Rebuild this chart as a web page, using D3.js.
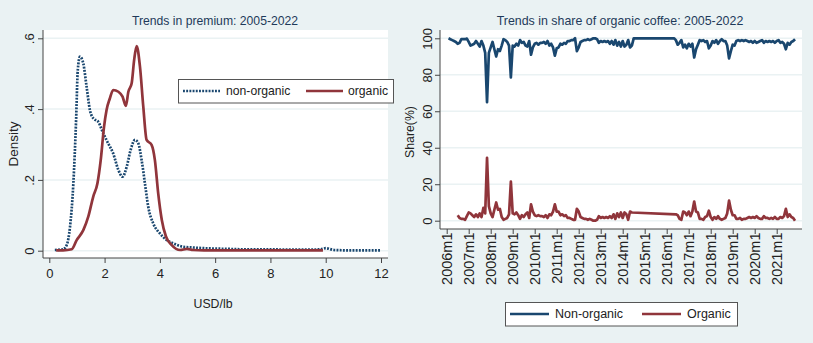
<!DOCTYPE html>
<html>
<head>
<meta charset="utf-8">
<script src="https://cdn.jsdelivr.net/npm/d3@7"></script>
<style>
  html, body { margin: 0; padding: 0; background: #eaf2f3; }
  svg { display: block; font-family: "Liberation Sans", Arial, sans-serif; }
</style>
</head>
<body>
<svg id="chart" width="813" height="343"></svg>
<script>
// ---- Left panel: kernel densities of the price premium (USD/lb) ----
const nonOrgPremX = [0.2, 0.5, 0.63, 0.75, 0.87, 0.97, 1.03, 1.11, 1.23, 1.35, 1.47, 1.59, 1.77, 1.95, 2.13, 2.31, 2.5, 2.65, 2.8, 2.94, 3.1, 3.22, 3.34, 3.46, 3.58, 3.76, 4.0, 4.25, 4.48, 4.85, 5.2, 5.6, 6.0, 6.5, 7.0, 7.5, 8.0, 8.5, 9.0, 9.5, 9.8, 10.0, 10.3, 10.8, 11.4, 12.0];
const nonOrgDensity = [0.002, 0.004, 0.016, 0.068, 0.19, 0.37, 0.51, 0.548, 0.529, 0.463, 0.397, 0.374, 0.364, 0.332, 0.303, 0.275, 0.228, 0.209, 0.237, 0.284, 0.313, 0.303, 0.256, 0.19, 0.124, 0.077, 0.049, 0.030, 0.021, 0.011, 0.009, 0.007, 0.006, 0.005, 0.004, 0.004, 0.004, 0.003, 0.003, 0.003, 0.004, 0.007, 0.002, 0.001, 0.001, 0.001];

const orgPremX = [0.25, 0.5, 0.81, 0.99, 1.23, 1.41, 1.59, 1.74, 1.86, 1.98, 2.07, 2.19, 2.31, 2.5, 2.65, 2.77, 2.86, 2.98, 3.07, 3.16, 3.28, 3.4, 3.52, 3.7, 3.82, 3.94, 4.07, 4.22, 4.43, 4.73, 4.98, 5.2, 5.6, 6.5, 7.5, 8.5, 9.9];
const orgDensity = [0.001, 0.001, 0.004, 0.03, 0.058, 0.096, 0.153, 0.19, 0.256, 0.35, 0.397, 0.43, 0.454, 0.449, 0.435, 0.409, 0.449, 0.473, 0.539, 0.578, 0.52, 0.407, 0.313, 0.299, 0.256, 0.162, 0.087, 0.04, 0.016, 0.002, 0.005, 0.002, 0.001, 0.001, 0.001, 0.001, 0.001];

const premXTicks = [0, 2, 4, 6, 8, 10, 12];
const premYTicks = [0, 0.2, 0.4, 0.6];
const premYLabels = ["0", ".2", ".4", ".6"];

// ---- Right panel: monthly market share (%), month 0 = 2006m1 ----
const shareStart = { year: 2006, month: 1 };
const nonOrganicShare = [
  null, 100, 99.5, 99, 98.5, 98, 97, 97.5, 99.5, 99.5, 99.5, 99.8,           // 2006
  98, 96, 96.5, 97, 98.5, 97, 95.5, 98.5, 96, 92, 65, 92,                   // 2007
  95, 98, 94, 90, 94, 93, 96, 99.5, 99, 98, 96, 78.5,                        // 2008
  96, 95.5, 97, 96, 99, 97.5, 98, 96, 95.5, 98.5, 91, 95,                    // 2009
  97, 97.5, 96.5, 97.5, 97.5, 98, 97, 98.5, 96, 97, 95, 90.5,                // 2010
  94.5, 95, 97, 96.5, 97.5, 97, 98.5, 98.5, 99, 99, 100, 93,                 // 2011
  95, 98, 98.5, 99, 99, 99.5, 99, 99.5, 100, 100, 99.5, 97.5,                // 2012
  98.5, 98, 98.5, 98, 98.5, 97, 98.5, 96.5, 99, 96, 98, 95.5,                // 2013
  98.5, 95.5, 96.5, 99, 95, 96, 100, 100, 100, 100, 100, 100,                // 2014
  100, 100, 100, 100, 100, 100, 100, 100, 100, 100, 100, 100,                // 2015
  100, 100, 100, 100, 100, 99, 96.5, 97.5, 99, 95, 96.5, 94.5,               // 2016
  97, 95.5, 97, 89.5, 94, 96.5, 99, 98.5, 99, 98, 98.5, 94.5,                // 2017
  96, 98.5, 97.5, 99, 97, 98.5, 99.5, 98.5, 98.5, 96, 89, 93,                // 2018
  96.5, 96, 98.5, 99, 98.5, 99, 98.5, 99, 98.5, 98, 98.5, 97.5,              // 2019
  98.5, 97.5, 98, 98.5, 99, 97.5, 98.5, 98, 98.5, 98, 98.5, 97.5,            // 2020
  98.5, 99, 97.5, 98, 97, 94, 97.5, 96.5, 98, 98.5, 99.5, null               // 2021
];
const organicShare = [
  null, null, null, null, null, null, 3, 1.5, 1, 1, 0.5, 2.5,                // 2006
  4.5, 4, 3, 2, 3.5, 2, 4, 2, 7, 4, 34.5, 8,                                 // 2007
  4, 2, 6, 10, 6, 6.5, 2, 0.5, 1, 1.5, 3.5, 21.5,                            // 2008
  4, 3.5, 4.5, 3, 1, 3, 2, 3.5, 4.5, 1.5, 9, 5,                              // 2009
  3, 2.5, 3, 2.5, 2.5, 2, 3, 1.5, 3.5, 3, 5, 9,                              // 2010
  5, 5, 3, 3.5, 2.5, 3, 1.5, 1.5, 1, 0.5, 0.5, 6.5,                          // 2011
  5, 2, 1.5, 1, 1, 0.5, 1, 0.5, 0, 0, 0.5, 2.5,                              // 2012
  1.5, 2, 1.5, 2, 1.5, 2.5, 1.5, 3.5, 1, 4, 2, 4.5,                          // 2013
  1.5, 4.5, 3.5, 0.5, 5, 4.5, null, null, null, null, null, null,            // 2014
  null, null, null, null, null, null, null, null, null, null, null, null,    // 2015
  null, null, null, null, null, 3.5, 3, 1, 0.5, 5, 4.5, 3,                   // 2016
  5, 2.5, 5, 10.5, 5, 4.5, 1, 1, 0.5, 2, 2.5, 5.5,                           // 2017
  2, 0.5, 2, 1, 2.5, 1, 0.5, 1, 1.5, 4, 11, 6,                               // 2018
  3, 3, 1, 1, 1.5, 0.5, 1, 1, 1.5, 2, 1.5, 2,                                // 2019
  1.5, 2.5, 1.5, 1, 1, 2.5, 1.5, 1.5, 1, 1.5, 1, 2,                          // 2020
  1, 1, 2, 1.5, 2.5, 6.5, 2, 3.5, 2, 1.5, 0, null                            // 2021
];
const shareYTicks = [0, 20, 40, 60, 80, 100];
const shareXTickYears = [2006, 2007, 2008, 2009, 2010, 2011, 2012, 2013, 2014, 2015, 2016, 2017, 2018, 2019, 2020, 2021];

const navy = "#1a476f";
const maroon = "#90353b";
const gridColor = "#eaf2f3";
const axisColor = "#444";
const titleColor = "#1e3a5a";
const textColor = "#222";
const lineWidth = 2.7;
const dotPattern = "1.9,1.3";

const svg = d3.select("#chart");

// ================= Left panel =================
{
  const plot = { left: 43, right: 388, top: 30, bottom: 258 };
  const x = d3.scaleLinear().domain([0, 12]).range([49.3, 381]);
  const y = d3.scaleLinear().domain([0, 0.6]).range([250.7, 38.3]);
  const g = svg.append("g");

  g.append("rect").attr("x", plot.left).attr("y", plot.top)
    .attr("width", plot.right - plot.left).attr("height", plot.bottom - plot.top)
    .attr("fill", "#fff");

  g.selectAll("line.grid").data(premYTicks).join("line")
    .attr("x1", plot.left).attr("x2", plot.right)
    .attr("y1", d => y(d)).attr("y2", d => y(d))
    .attr("stroke", gridColor).attr("stroke-width", 1.5);

  const yAxis = d3.axisLeft(y).tickValues(premYTicks)
    .tickFormat((d, i) => premYLabels[i]).tickSize(5);
  const ya = g.append("g").attr("transform", `translate(${plot.left},0)`).call(yAxis);
  ya.select(".domain").attr("d", `M0,${plot.top}V${plot.bottom}`).attr("stroke", axisColor);
  ya.selectAll(".tick line").attr("stroke", axisColor);
  ya.selectAll(".tick text")
    .attr("font-size", 13).attr("fill", textColor)
    .attr("text-anchor", "middle")
    .attr("transform", "translate(-14,0) rotate(-90)")
    .attr("x", 0).attr("y", 0).attr("dy", "0.35em");

  const xAxis = d3.axisBottom(x).tickValues(premXTicks).tickSize(5).tickPadding(6);
  const xa = g.append("g").attr("transform", `translate(0,${plot.bottom})`).call(xAxis);
  xa.select(".domain").attr("d", `M${plot.left},0H${plot.right}`).attr("stroke", axisColor);
  xa.selectAll(".tick line").attr("stroke", axisColor);
  xa.selectAll(".tick text").attr("font-size", 13).attr("fill", textColor);

  const line = d3.line().x(d => x(d[0])).y(d => y(d[1])).curve(d3.curveMonotoneX);

  g.append("path")
    .datum(d3.zip(nonOrgPremX, nonOrgDensity))
    .attr("d", line).attr("fill", "none")
    .attr("stroke", navy).attr("stroke-width", lineWidth)
    .attr("stroke-dasharray", dotPattern);

  g.append("path")
    .datum(d3.zip(orgPremX, orgDensity))
    .attr("d", line).attr("fill", "none")
    .attr("stroke", maroon).attr("stroke-width", lineWidth);

  g.append("text").attr("x", 215).attr("y", 25)
    .attr("text-anchor", "middle").attr("font-size", 12.2).attr("fill", titleColor)
    .text("Trends in premium: 2005-2022");
  g.append("text").attr("transform", "translate(18,144) rotate(-90)")
    .attr("text-anchor", "middle").attr("font-size", 13.5).attr("fill", textColor)
    .text("Density");
  g.append("text").attr("x", 213).attr("y", 308)
    .attr("text-anchor", "middle").attr("font-size", 12.3).attr("fill", textColor)
    .text("USD/lb");

  // legend
  const lg = g.append("g");
  lg.append("rect").attr("x", 178.5).attr("y", 79.5).attr("width", 215).attr("height", 23.5)
    .attr("fill", "#fff").attr("stroke", "#555").attr("stroke-width", 1);
  lg.append("line").attr("x1", 183).attr("x2", 220).attr("y1", 91).attr("y2", 91)
    .attr("stroke", navy).attr("stroke-width", lineWidth).attr("stroke-dasharray", dotPattern);
  lg.append("text").attr("x", 226).attr("y", 91).attr("dy", "0.35em")
    .attr("font-size", 12.2).attr("fill", textColor).text("non-organic");
  lg.append("line").attr("x1", 306).attr("x2", 343).attr("y1", 91).attr("y2", 91)
    .attr("stroke", maroon).attr("stroke-width", lineWidth);
  lg.append("text").attr("x", 348).attr("y", 91).attr("dy", "0.35em")
    .attr("font-size", 12.2).attr("fill", textColor).text("organic");
}

// ================= Right panel =================
{
  const plot = { left: 440, right: 802, top: 30, bottom: 229 };
  const x = d3.scaleLinear().domain([0, 180]).range([446.7, 776.7]);
  const y = d3.scaleLinear().domain([0, 100]).range([220.7, 38.3]);
  const g = svg.append("g");

  g.append("rect").attr("x", plot.left).attr("y", plot.top)
    .attr("width", plot.right - plot.left).attr("height", plot.bottom - plot.top)
    .attr("fill", "#fff");

  g.selectAll("line.grid").data(shareYTicks).join("line")
    .attr("x1", plot.left).attr("x2", plot.right)
    .attr("y1", d => y(d)).attr("y2", d => y(d))
    .attr("stroke", gridColor).attr("stroke-width", 1.5);

  const yAxis = d3.axisLeft(y).tickValues(shareYTicks).tickSize(5);
  const ya = g.append("g").attr("transform", `translate(${plot.left},0)`).call(yAxis);
  ya.select(".domain").attr("d", `M0,${plot.top}V${plot.bottom}`).attr("stroke", axisColor);
  ya.selectAll(".tick line").attr("stroke", axisColor);
  ya.selectAll(".tick text")
    .attr("font-size", 13).attr("fill", textColor)
    .attr("text-anchor", "middle")
    .attr("transform", "translate(-13,0) rotate(-90)")
    .attr("x", 0).attr("y", 0).attr("dy", "0.35em");

  const tickMonths = shareXTickYears.map(yr => (yr - shareStart.year) * 12);
  const xAxis = d3.axisBottom(x).tickValues(tickMonths)
    .tickFormat(m => `${shareStart.year + m / 12}m1`).tickSize(5);
  const xa = g.append("g").attr("transform", `translate(0,${plot.bottom})`).call(xAxis);
  xa.select(".domain").attr("d", `M${plot.left},0H${plot.right}`).attr("stroke", axisColor);
  xa.selectAll(".tick line").attr("stroke", axisColor);
  xa.selectAll(".tick text")
    .attr("font-size", 14.5).attr("fill", textColor)
    .attr("text-anchor", "end")
    .attr("transform", "translate(0,3.5) rotate(-90)")
    .attr("x", 0).attr("y", 0).attr("dy", "0.35em");

  const toPoints = arr => arr.map((v, i) => [i, v]).filter(d => d[1] !== null);
  const line = d3.line().x(d => x(d[0])).y(d => y(d[1]));

  g.append("path").datum(toPoints(nonOrganicShare)).attr("d", line)
    .attr("fill", "none").attr("stroke", navy).attr("stroke-width", lineWidth)
    .attr("stroke-linejoin", "round");
  g.append("path").datum(toPoints(organicShare)).attr("d", line)
    .attr("fill", "none").attr("stroke", maroon).attr("stroke-width", lineWidth)
    .attr("stroke-linejoin", "round");

  g.append("text").attr("x", 620).attr("y", 25)
    .attr("text-anchor", "middle").attr("font-size", 12.4).attr("fill", titleColor)
    .text("Trends in share of organic coffee: 2005-2022");
  g.append("text").attr("transform", "translate(410,132) rotate(-90)")
    .attr("text-anchor", "middle").attr("dy", "0.35em").attr("font-size", 12.3).attr("fill", textColor)
    .text("Share(%)");

  // legend
  const lg = g.append("g");
  lg.append("rect").attr("x", 505.5).attr("y", 302.5).attr("width", 232).attr("height", 23.5)
    .attr("fill", "#fff").attr("stroke", "#555").attr("stroke-width", 1);
  lg.append("line").attr("x1", 510).attr("x2", 549).attr("y1", 314).attr("y2", 314)
    .attr("stroke", navy).attr("stroke-width", lineWidth);
  lg.append("text").attr("x", 555).attr("y", 314).attr("dy", "0.35em")
    .attr("font-size", 12.5).attr("fill", textColor).text("Non-organic");
  lg.append("line").attr("x1", 642).attr("x2", 681).attr("y1", 314).attr("y2", 314)
    .attr("stroke", maroon).attr("stroke-width", lineWidth);
  lg.append("text").attr("x", 687).attr("y", 314).attr("dy", "0.35em")
    .attr("font-size", 12.5).attr("fill", textColor).text("Organic");
}
</script>
</body>
</html>
